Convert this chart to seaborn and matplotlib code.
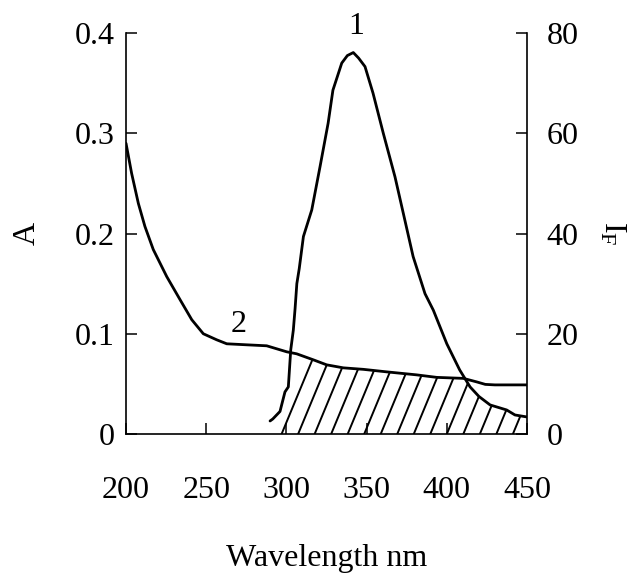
import numpy as np
import matplotlib
matplotlib.use("Agg")
import matplotlib.pyplot as plt
import seaborn as sns

# curve 2: absorbance (left axis)
abs_wl = [200, 203.5, 207.7, 211.8, 217, 225.4, 233.7, 241, 248.2, 256.5, 262.8, 275, 287.7,
          300.2, 306.4, 316.8, 325.1, 335.5, 348, 362.5, 381.2, 393.7, 410.3, 418.6, 424, 430, 450]
abs_val = [0.290, 0.260, 0.230, 0.207, 0.184, 0.157, 0.134, 0.114, 0.100, 0.094, 0.090, 0.089, 0.088,
           0.082, 0.080, 0.074, 0.069, 0.066, 0.0645, 0.062, 0.059, 0.0565, 0.0555, 0.052, 0.0495, 0.049, 0.049]

# curve 1: fluorescence intensity (right axis)
fl_wl = [289.8, 291.5, 296, 299.1, 301.2, 302.7, 304.3, 305.4, 306.5, 308, 310.6, 315.8, 321, 326,
         329, 334.5, 338, 341.7, 345, 349, 354, 360.4, 367.7, 372.9, 379, 386.4, 391.6, 400, 408,
         414.5, 420, 427, 437.3, 442.5, 450]
fl_val = [2.6, 3.0, 4.5, 8.4, 9.4, 16.8, 20.7, 25, 30, 33, 39.4, 44.7, 53.4, 62,
          68.6, 74, 75.5, 76.1, 75, 73.3, 68, 60, 51.3, 44, 35.4, 28, 24.7, 18, 12.8,
          9.4, 7.5, 5.8, 4.8, 3.8, 3.4]

x_ticks = [200, 250, 300, 350, 400, 450]
a_ticks = [0, 0.1, 0.2, 0.3, 0.4]
a_labels = ['0', '0.1', '0.2', '0.3', '0.4']
f_ticks = [0, 20, 40, 60, 80]

sns.set_style("ticks")
plt.rcParams['font.family'] = ['Liberation Serif', 'DejaVu Serif']
plt.rcParams['mathtext.fontset'] = 'custom'
plt.rcParams['mathtext.rm'] = 'Liberation Serif'
for key in ['text.color', 'axes.labelcolor', 'xtick.color', 'ytick.color', 'axes.edgecolor']:
    plt.rcParams[key] = 'black'

fs = 23
fig = plt.figure(figsize=(6.31, 5.76), dpi=100)
ax = fig.add_axes([0.1997, 0.2465, 0.6355, 0.6962])
ax2 = ax.twinx()

sns.lineplot(x=abs_wl, y=abs_val, ax=ax, color='black', lw=2)
sns.lineplot(x=fl_wl, y=fl_val, ax=ax2, color='black', lw=2)

ax.set_xlim(200, 450)
ax.set_ylim(0, 0.4)
ax2.set_ylim(0, 80)

# overlap region (fluorescence scaled onto the absorbance axis), hatched with steep lines
grid = np.linspace(fl_wl[0], 450, 800)
upper = np.minimum(np.interp(grid, abs_wl, abs_val), np.interp(grid, fl_wl, fl_val) * 0.4 / 80)
region = ax.fill_between(grid, 0, upper, facecolor='none', edgecolor='none')
clip = region.get_paths()[0]
slope = 0.00386
for x0 in np.arange(297, 450, 10.3):
    ln, = ax.plot([x0, x0 + 0.4 / slope], [0, 0.4], color='black', lw=1.4)
    ln.set_clip_path(clip, ax.transData)

ax.set_xticks(x_ticks)
ax.set_yticks(a_ticks)
ax.set_yticklabels(a_labels)
ax2.set_yticks(f_ticks)

ax.tick_params(axis='y', direction='in', length=8, width=1.1, pad=8, labelsize=fs)
ax.tick_params(axis='x', direction='in', length=8, width=1.1, pad=30, labelsize=fs)
ax2.tick_params(axis='y', direction='in', length=8, width=1.1, pad=14, labelsize=fs)

for s in ['top', 'right']:
    ax.spines[s].set_visible(False)
for s in ['top', 'left', 'bottom']:
    ax2.spines[s].set_visible(False)
for a in (ax, ax2):
    for s in a.spines.values():
        s.set_linewidth(1.2)
        s.set_color('black')

ax.set_xlabel('Wavelength nm', fontsize=fs, labelpad=28)
ax.set_ylabel('A', fontsize=fs, labelpad=24)
ax2.set_ylabel(r'$\mathregular{I_F}$', fontsize=fs, rotation=-90, va='bottom', labelpad=14)

ax.text(343.4, 0.406, '1', fontsize=fs, ha='center', va='center')
ax.text(270, 0.109, '2', fontsize=fs, ha='center', va='center')

fig.savefig('out.png', dpi=100)
